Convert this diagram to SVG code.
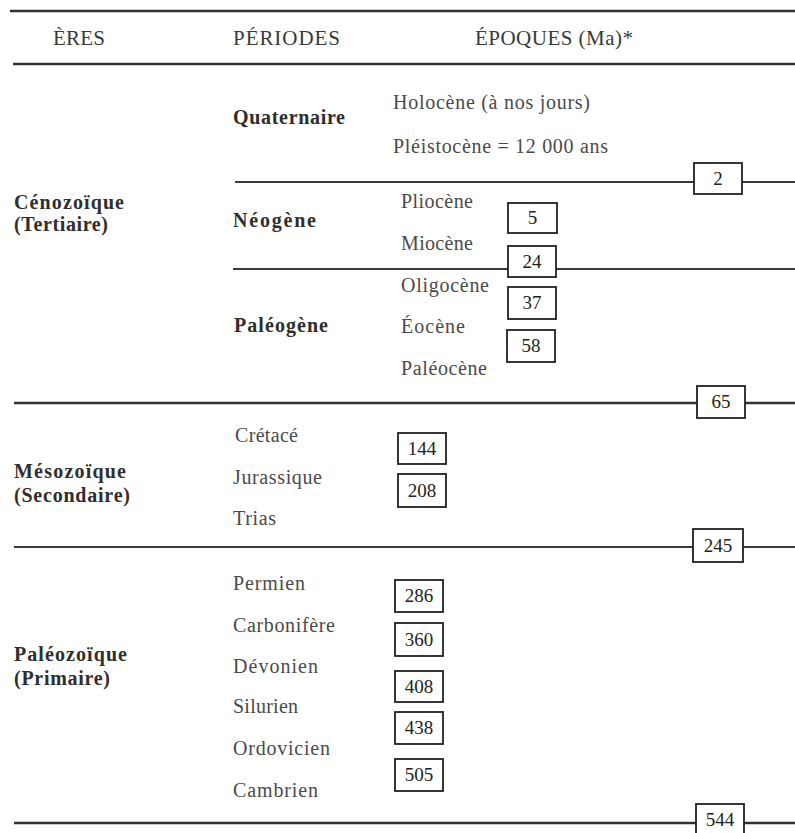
<svg xmlns="http://www.w3.org/2000/svg" width="795" height="833" viewBox="0 0 795 833">
<style>
text{font-family:"Liberation Serif","Times New Roman",serif;}
.h{font-size:21px;fill:#3a3a3a;}
.b{font-size:20px;font-weight:bold;fill:#2e2e2e;}
.t{font-size:20px;fill:#4a4a4a;}
.n{font-size:19px;fill:#222;text-anchor:middle;}
.L{stroke:#333;stroke-width:2.5;fill:none;}
.l{stroke:#3a3a3a;stroke-width:1.8;fill:none;}
.box{fill:#fff;stroke:#222;stroke-width:1.8;}
</style>
<rect width="795" height="833" fill="#fff"/>
<g id="connectors">
<line class="L" x1="10" y1="11" x2="795" y2="11"/>
<line class="L" x1="13" y1="64" x2="795" y2="64"/>
<line class="l" x1="235" y1="182" x2="795" y2="182"/>
<line class="l" x1="233" y1="269" x2="795" y2="269"/>
<line class="L" x1="14" y1="403" x2="795" y2="403"/>
<line class="l" x1="14" y1="547" x2="795" y2="547"/>
<line class="L" x1="14" y1="823" x2="795" y2="823"/>
</g>
<g id="header">
<text class="h" x="53" y="45" textLength="52">ÈRES</text>
<text class="h" x="233" y="45" textLength="107">PÉRIODES</text>
<text class="h" x="475" y="45" textLength="158">ÉPOQUES (Ma)*</text>
</g>
<g id="era-cenozoique">
<text class="b" x="14" y="209" textLength="110">Cénozoïque</text>
<text class="b" x="14" y="231" textLength="94">(Tertiaire)</text>
</g>
<g id="period-quaternaire">
<text class="b" x="233" y="124" textLength="112">Quaternaire</text>
<text class="t" x="393" y="109" textLength="197">Holocène (à nos jours)</text>
<text class="t" x="393" y="153" textLength="215">Pléistocène = 12 000 ans</text>
</g>
<g id="period-neogene">
<text class="b" x="233" y="227" textLength="83">Néogène</text>
<text class="t" x="401" y="208" textLength="72">Pliocène</text>
<text class="t" x="401" y="250" textLength="72">Miocène</text>
</g>
<g id="period-paleogene">
<text class="b" x="234" y="332" textLength="94">Paléogène</text>
<text class="t" x="401" y="292" textLength="88">Oligocène</text>
<text class="t" x="401" y="333" textLength="64">Éocène</text>
<text class="t" x="401" y="375" textLength="86">Paléocène</text>
</g>
<g id="era-mesozoique">
<text class="b" x="14" y="478" textLength="112">Mésozoïque</text>
<text class="b" x="14" y="502" textLength="116">(Secondaire)</text>
<text class="t" x="235" y="442" textLength="63">Crétacé</text>
<text class="t" x="233" y="484" textLength="89">Jurassique</text>
<text class="t" x="233" y="525" textLength="43">Trias</text>
</g>
<g id="era-paleozoique">
<text class="b" x="14" y="661" textLength="113">Paléozoïque</text>
<text class="b" x="14" y="685" textLength="96">(Primaire)</text>
<text class="t" x="233" y="590" textLength="72">Permien</text>
<text class="t" x="233" y="632" textLength="102">Carbonifère</text>
<text class="t" x="233" y="673" textLength="85">Dévonien</text>
<text class="t" x="233" y="713" textLength="65">Silurien</text>
<text class="t" x="233" y="755" textLength="97">Ordovicien</text>
<text class="t" x="233" y="797" textLength="85">Cambrien</text>
</g>
<g id="box-2"><rect class="box" x="694" y="163" width="48" height="31"/><text class="n" x="718" y="185">2</text></g>
<g id="box-5"><rect class="box" x="508" y="203" width="49" height="30"/><text class="n" x="532.5" y="224">5</text></g>
<g id="box-24"><rect class="box" x="508" y="246" width="48" height="31"/><text class="n" x="532" y="268">24</text></g>
<g id="box-37"><rect class="box" x="508" y="287" width="48" height="32"/><text class="n" x="532" y="309">37</text></g>
<g id="box-58"><rect class="box" x="507" y="330" width="48" height="32"/><text class="n" x="531" y="352">58</text></g>
<g id="box-65"><rect class="box" x="697" y="386" width="48" height="32"/><text class="n" x="721" y="408">65</text></g>
<g id="box-144"><rect class="box" x="398" y="433" width="48" height="31"/><text class="n" x="422" y="455">144</text></g>
<g id="box-208"><rect class="box" x="398" y="474" width="48" height="33"/><text class="n" x="422" y="497">208</text></g>
<g id="box-245"><rect class="box" x="693" y="529" width="50" height="33"/><text class="n" x="718" y="552">245</text></g>
<g id="box-286"><rect class="box" x="395" y="580" width="48" height="32"/><text class="n" x="419" y="602">286</text></g>
<g id="box-360"><rect class="box" x="395" y="623" width="48" height="33"/><text class="n" x="419" y="646">360</text></g>
<g id="box-408"><rect class="box" x="395" y="671" width="48" height="31"/><text class="n" x="419" y="693">408</text></g>
<g id="box-438"><rect class="box" x="395" y="712" width="48" height="32"/><text class="n" x="419" y="734">438</text></g>
<g id="box-505"><rect class="box" x="395" y="759" width="48" height="32"/><text class="n" x="419" y="781">505</text></g>
<g id="box-544"><rect class="box" x="696" y="804" width="48" height="32"/><text class="n" x="720" y="826">544</text></g>
</svg>
